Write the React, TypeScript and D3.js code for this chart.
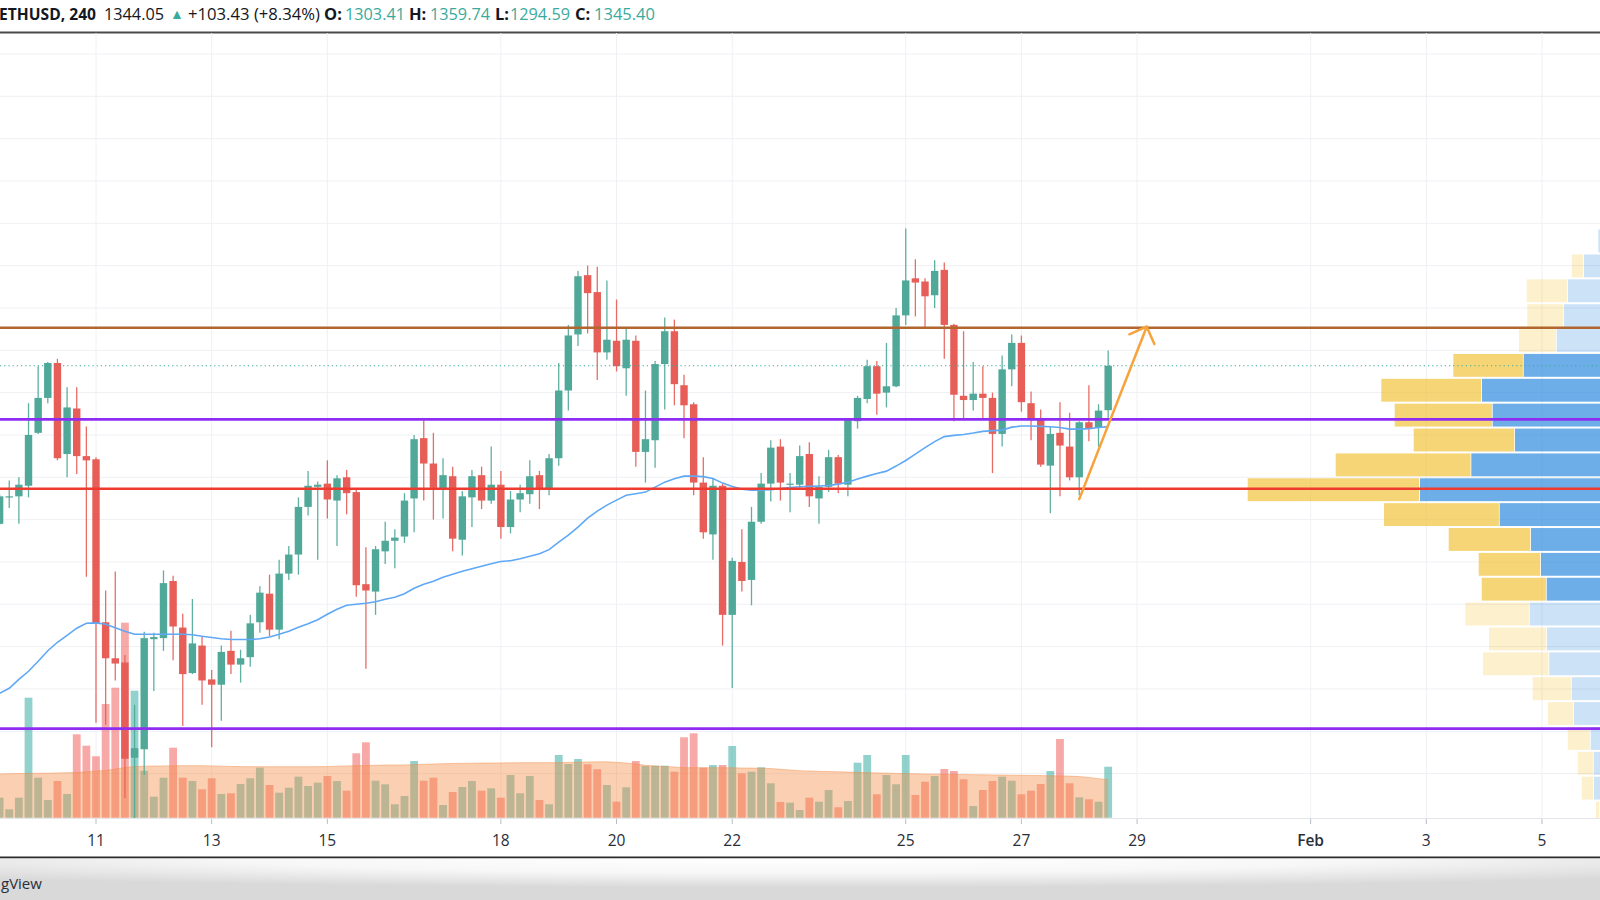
import React from 'react';
import * as d3 from 'd3';

const W = 1600;
const H = 900;

// 4h candles, first one at 2021-01-09 08:00 UTC
const START_MS = Date.UTC(2021, 0, 9, 8);
const STEP_MS = 4 * 3600 * 1000;

const opens = [
  1196, 1221, 1222, 1232, 1282, 1315, 1348, 1262, 1305, 1260,
  1257, 1103, 1069, 1065, 975, 983, 1087, 1088, 1142, 1098,
  1055, 1081, 1049, 1044, 1076, 1063, 1070, 1103, 1130, 1096,
  1149, 1167, 1212, 1231, 1234, 1218, 1240, 1226, 1139, 1132,
  1170, 1180, 1184, 1220, 1277, 1253, 1228, 1241, 1181, 1221,
  1242, 1218, 1233, 1193, 1219, 1224, 1242, 1228, 1258, 1322,
  1375, 1431, 1415, 1358, 1369, 1343, 1369, 1264, 1275, 1347,
  1378, 1327, 1309, 1235, 1186, 1232, 1110, 1160, 1143, 1198,
  1234, 1269, 1233, 1233, 1262, 1220, 1231, 1259, 1233, 1293,
  1314, 1345, 1320, 1326, 1393, 1428, 1425, 1412, 1436, 1384,
  1317, 1313, 1319, 1315, 1281, 1342, 1367, 1310, 1295, 1251,
  1282, 1269, 1240, 1292, 1287, 1303.41,
];
const highs = [
  1224, 1237, 1240, 1310, 1345, 1349, 1352, 1325, 1325, 1288,
  1259, 1133, 1151, 1072, 1025, 1094, 1093, 1152, 1147, 1111,
  1125, 1089, 1058, 1081, 1095, 1077, 1110, 1137, 1148, 1162,
  1175, 1221, 1246, 1236, 1256, 1242, 1247, 1229, 1174, 1175,
  1198, 1191, 1225, 1280, 1294, 1282, 1258, 1250, 1227, 1247,
  1250, 1269, 1246, 1227, 1233, 1256, 1246, 1262, 1348, 1384,
  1435, 1440, 1439, 1426, 1408, 1381, 1374, 1322, 1350, 1391,
  1389, 1337, 1311, 1259, 1239, 1234, 1164, 1191, 1212, 1244,
  1275, 1276, 1244, 1270, 1273, 1241, 1266, 1261, 1296, 1317,
  1351, 1350, 1367, 1400, 1475, 1446, 1428, 1445, 1443, 1385,
  1378, 1349, 1345, 1320, 1355, 1375, 1374, 1321, 1304, 1288,
  1311, 1301, 1293, 1327, 1309, 1359.74,
];
const lows = [
  1195, 1211, 1196, 1221, 1281, 1310, 1256, 1240, 1243, 1146,
  1008, 1006, 1048, 937, 911, 959, 1038, 1076, 1067, 1005,
  1054, 1025, 985, 1010, 1054, 1046, 1061, 1093, 1090, 1087,
  1143, 1148, 1204, 1162, 1201, 1175, 1205, 1127, 1059, 1110,
  1158, 1154, 1178, 1188, 1218, 1200, 1201, 1170, 1166, 1193,
  1210, 1215, 1182, 1187, 1207, 1215, 1210, 1223, 1251, 1303,
  1364, 1376, 1332, 1351, 1340, 1317, 1250, 1235, 1249, 1304,
  1308, 1277, 1223, 1182, 1162, 1081, 1041, 1132, 1119, 1196,
  1217, 1218, 1207, 1228, 1212, 1196, 1226, 1225, 1222, 1286,
  1310, 1299, 1306, 1325, 1384, 1392, 1382, 1400, 1352, 1293,
  1296, 1303, 1296, 1244, 1269, 1326, 1302, 1275, 1250, 1206,
  1222, 1237, 1223, 1274, 1269, 1294.59,
];
const closes = [
  1222, 1222, 1233, 1280, 1315, 1348, 1258, 1306, 1260, 1256,
  1102, 1069, 1064, 974, 984, 1088, 1089, 1140, 1099, 1054,
  1083, 1048, 1044, 1075, 1063, 1069, 1102, 1131, 1096, 1149,
  1167, 1212, 1232, 1233, 1219, 1239, 1225, 1138, 1133, 1172,
  1180, 1183, 1218, 1276, 1253, 1230, 1242, 1182, 1222, 1241,
  1218, 1233, 1193, 1219, 1225, 1241, 1228, 1258, 1322, 1374,
  1430, 1414, 1358, 1370, 1345, 1370, 1264, 1276, 1347, 1378,
  1328, 1308, 1235, 1188, 1232, 1110, 1161, 1142, 1198, 1234,
  1268, 1235, 1234, 1260, 1222, 1231, 1259, 1234, 1295, 1315,
  1345, 1319, 1326, 1393, 1426, 1424, 1411, 1435, 1384, 1318,
  1313, 1319, 1315, 1281, 1342, 1367, 1311, 1294, 1252, 1281,
  1270, 1240, 1292, 1286, 1303, 1345.4,
];
const priceMA = [
  1035.9, 1040.6, 1049.1, 1056.7, 1066.2, 1076.1, 1084.1, 1090.7, 1097.4, 1102.1,
  1102.4, 1101.1, 1097.8, 1094.5, 1091.7, 1091.7, 1091.7, 1091.7, 1091.7, 1091.7,
  1091.2, 1089.8, 1088.6, 1087.4, 1086.7, 1086.7, 1086.7, 1087.4, 1089.1, 1091.7,
  1094.5, 1098.3, 1101.6, 1105.4, 1110.6, 1115.3, 1119.1, 1120.1, 1121.0, 1122.4,
  1124.8, 1126.7, 1130.0, 1135.2, 1139.0, 1141.8, 1145.6, 1148.4, 1151.3, 1153.6,
  1156.0, 1158.3, 1160.4, 1161.2, 1163.1, 1165.4, 1167.8, 1171.6, 1178.7, 1185.3,
  1192.9, 1201.4, 1208.0, 1213.7, 1218.4, 1223.1, 1224.5, 1226.0, 1230.7, 1235.4,
  1238.7, 1241.1, 1241.1, 1240.6, 1238.9, 1234.5, 1231.2, 1228.8, 1227.9, 1227.9,
  1228.3, 1229.3, 1230.2, 1231.0, 1231.4, 1231.8, 1232.3, 1233.5, 1235.4, 1238.3,
  1241.1, 1243.5, 1245.8, 1250.6, 1255.9, 1261.9, 1268.0, 1273.7, 1278.4, 1279.6,
  1280.5, 1281.8, 1283.4, 1284.1, 1284.6, 1287.4, 1288.4, 1288.4, 1288.1, 1287.7,
  1287.0, 1285.5, 1285.5, 1286.0, 1287.0, 1287.9,
];
// volume (thousand ETH)
const volumes = [
  20, 8.4, 20, 120, 40, 17.7, 36.7, 23.7, 83.4, 72,
  61.4, 113.7, 130, 195, 127, 47, 21, 40, 70, 40,
  36.7, 28.4, 39.4, 23.7, 24.4, 33.7, 39.4, 50, 32.7, 25,
  30, 41, 31.7, 35, 41.7, 36.7, 27, 64.4, 75.4, 37,
  33.4, 13.4, 21.7, 56.7, 37, 40, 12.7, 25.7, 30.7, 36.7,
  27, 29.4, 20, 42.7, 24.4, 41.7, 17.7, 13.4, 62.7, 53.7,
  58.7, 53.4, 48.4, 32.7, 16, 30.4, 56.7, 51.7, 52, 52,
  46, 80.4, 84.4, 50, 52.7, 52.7, 71.7, 44.4, 46, 50.4,
  34.4, 15.7, 15, 7.7, 20, 16, 27.7, 10.4, 16.7, 55,
  62.7, 23.4, 42.7, 33.4, 62.7, 22.7, 36, 41.7, 48.7, 46.7,
  38.4, 11.7, 27.7, 36.7, 41, 37, 23.4, 27, 33.7, 46.7,
  78.7, 34.4, 20.4, 18.4, 16, 51,
];
const volumeMA = [
  43.7, 44, 44.2, 44.3, 44.4, 44.5, 44.8, 45, 45.2, 45.9,
  46.7, 47.2, 48.7, 50.2, 51.1, 51.5, 51.7, 51.8, 51.9, 52,
  52, 52, 51.8, 51.5, 51.3, 51.1, 51, 51, 51, 51,
  51, 51, 51, 51, 51.2, 51.5, 51.8, 52, 52.2, 52.5,
  52.7, 52.7, 52.8, 53.1, 53.4, 53.7, 54, 54.2, 54.4, 54.5,
  54.6, 54.7, 54.8, 54.9, 55, 55, 55, 55, 55.1, 55.3,
  55.5, 55.7, 55.9, 55.9, 55.4, 54.7, 53.7, 52.4, 51.7, 51.2,
  50.7, 50, 50, 50, 50, 50, 49.9, 49.7, 49.6, 49.5,
  49.2, 48.4, 47.7, 47, 46.7, 46.4, 46.1, 45.9, 45.6, 45.4,
  45, 44.8, 44.6, 44.3, 44.1, 43.9, 43.7, 43.7, 43.5, 43.3,
  43.2, 43, 42.9, 42.8, 42.7, 42.5, 42.4, 42.2, 42.1, 41.9,
  41.8, 41.6, 41.1, 40.3, 39, 38,
];

// visible-range volume profile, 24 rows from top (1475) to bottom (911)
const vpHigh = 1475;
const vpLow = 911;
const vpUp = [41.7, 56, 72, 76, 83.3, 116.3, 158, 147.3, 125, 168.7, 220, 140.3, 109, 99, 93.3, 110.3, 93, 90.7, 68.3, 66, 49.3, 46.3, 46, 40];
const vpDown = [0, 12.3, 41.3, 36.7, 37.7, 70.4, 100.7, 98, 101.3, 135.6, 172.3, 115.7, 82.3, 62.3, 65, 64.4, 58, 66.3, 39, 26, 23, 16, 12.3, 4];
const vpValueArea = [5, 14]; // first and last row inside value area

// horizontal levels
const levelPrices = [1381.3, 1294.7, 1229.1, 1002.5];
const levelColors = ['#b0662e', '#8e2cf2', '#ee3a2f', '#8e2cf2'];

// projected move arrow: [candle index, price]
const arrowFrom = [112, 1219.4];
const arrowTo = [119, 1382.3];

const tickDates = [
  [2021, 0, 11], [2021, 0, 13], [2021, 0, 15], [2021, 0, 18], [2021, 0, 20], [2021, 0, 22],
  [2021, 0, 25], [2021, 0, 27], [2021, 0, 29], [2021, 1, 1], [2021, 1, 3], [2021, 1, 5],
];
const tickLabels = ['11', '13', '15', '18', '20', '22', '25', '27', '29', 'Feb', '3', '5'];

const headerLast = '1344.05';
const headerChange = '+103.43 (+8.34%)';
const watermark = 'gView';

const UP = '#4fa898';
const DOWN = '#e65e57';
const TEAL_TEXT = '#3aaa9b';
const FONT = '"Open Sans", "Noto Sans", sans-serif';

export default function App() {
  const PANE_TOP = 33;
  const PANE_BOTTOM = 818;
  const VOL_BASE = 817.7;

  const x = d3
    .scaleUtc()
    .domain([new Date(Date.UTC(2021, 0, 11)), new Date(Date.UTC(2021, 1, 1))])
    .range([96, 1310.6]);
  const y = d3.scaleLinear().domain([960, 1480]).range([773.6, 223.3]);
  const yv = d3.scaleLinear().domain([0, 100]).range([VOL_BASE, VOL_BASE - 100]);
  const xVP = d3.scaleLinear().domain([0, 100]).range([1640, 1540]);

  const tAt = (i: number) => new Date(START_MS + i * STEP_MS);
  const cx = (i: number) => x(tAt(i));
  const n = closes.length;

  const gridPrices = d3.range(960, 1641, 40);
  const ticks = tickDates.map((d) => new Date(Date.UTC(d[0], d[1], d[2])));

  const maLine = d3
    .line<number>()
    .x((_, i) => cx(i))
    .y((d) => y(d))(priceMA);

  const vmaArea = d3
    .area<number>()
    .x((_, i) => cx(i))
    .y0(VOL_BASE)
    .y1((d) => yv(d))(volumeMA);
  const vmaLine = d3
    .line<number>()
    .x((_, i) => cx(i))
    .y((d) => yv(d))(volumeMA);

  const rows = vpUp.length;
  const rowStep = (vpHigh - vpLow) / rows;

  // arrow geometry
  const ax0 = cx(arrowFrom[0]);
  const ay0 = y(arrowFrom[1]);
  const ax1 = cx(arrowTo[0]);
  const ay1 = y(arrowTo[1]);
  const ang = Math.atan2(ay0 - ay1, ax0 - ax1);
  const wing = 19;
  const wingA = ang + Math.PI / 4;
  const wingB = ang - Math.PI / 4;

  const last = n - 1;

  return (
    <svg
      width={W}
      height={H}
      viewBox={`0 0 ${W} ${H}`}
      style={{ position: 'absolute', left: 0, top: 0, background: '#fff', fontFamily: FONT }}
    >
      <defs>
        <clipPath id="pane">
          <rect x={0} y={PANE_TOP} width={W} height={PANE_BOTTOM - PANE_TOP} />
        </clipPath>
        <radialGradient id="shade" cx="50%" cy="0%" r="70%" fx="50%" fy="0%">
          <stop offset="0%" stopColor="#ffffff" />
          <stop offset="50%" stopColor="#f7f7f7" />
          <stop offset="100%" stopColor="#d9d9d9" />
        </radialGradient>
      </defs>

      <rect x={0} y={0} width={W} height={H} fill="#fff" />

      {/* header */}
      <g fontSize={16.5} fill="#131722">
        <text x={-1} y={19.5} fontWeight={700} textLength={97} lengthAdjust="spacingAndGlyphs">ETHUSD, 240</text>
        <text x={104} y={19.5} textLength={60} lengthAdjust="spacingAndGlyphs">{headerLast}</text>
        <text x={170} y={18.5} fill={TEAL_TEXT} fontSize={14}>▲</text>
        <text x={188} y={19.5} textLength={132} lengthAdjust="spacingAndGlyphs">{headerChange}</text>
        <text x={324} y={19.5} fontWeight={700}>O:</text>
        <text x={345} y={19.5} fill={TEAL_TEXT} textLength={60} lengthAdjust="spacingAndGlyphs">{opens[last].toFixed(2)}</text>
        <text x={409} y={19.5} fontWeight={700}>H:</text>
        <text x={430} y={19.5} fill={TEAL_TEXT} textLength={60} lengthAdjust="spacingAndGlyphs">{highs[last].toFixed(2)}</text>
        <text x={495} y={19.5} fontWeight={700}>L:</text>
        <text x={510} y={19.5} fill={TEAL_TEXT} textLength={60} lengthAdjust="spacingAndGlyphs">{lows[last].toFixed(2)}</text>
        <text x={575} y={19.5} fontWeight={700}>C:</text>
        <text x={594} y={19.5} fill={TEAL_TEXT} textLength={61} lengthAdjust="spacingAndGlyphs">{closes[last].toFixed(2)}</text>
      </g>
      <line x1={0} x2={W} y1={32.5} y2={32.5} stroke="#4a4a4a" strokeWidth={2} />

      <g clipPath="url(#pane)">
        {/* grid */}
        {gridPrices.map((p) => (
          <line key={'gy' + p} x1={0} x2={W} y1={y(p)} y2={y(p)} stroke="#eef0f4" strokeWidth={1} />
        ))}
        {ticks.map((t, i) => (
          <line key={'gx' + i} x1={x(t)} x2={x(t)} y1={PANE_TOP} y2={PANE_BOTTOM} stroke="#eef0f4" strokeWidth={1} />
        ))}

        {/* volume */}
        {volumes.map((v, i) => (
          <rect
            key={'v' + i}
            x={cx(i) - 3.9}
            y={yv(v)}
            width={7.8}
            height={VOL_BASE - yv(v)}
            fill={closes[i] >= opens[i] ? 'rgba(38,166,154,0.5)' : 'rgba(239,83,80,0.5)'}
          />
        ))}
        <path d={vmaArea || ''} fill="rgba(245,140,70,0.42)" />
        <path d={vmaLine || ''} fill="none" stroke="rgba(240,140,70,0.45)" strokeWidth={1} />

        {/* candles */}
        {closes.map((c, i) => {
          const o = opens[i];
          const up = c >= o;
          const col = up ? UP : DOWN;
          const top = y(Math.max(o, c));
          const bot = y(Math.min(o, c));
          return (
            <g key={'c' + i}>
              <line x1={cx(i)} x2={cx(i)} y1={y(highs[i])} y2={y(lows[i])} stroke={col} strokeWidth={1.3} opacity={0.9} />
              <rect x={cx(i) - 3.7} y={top} width={7.4} height={Math.max(1.2, bot - top)} fill={col} />
            </g>
          );
        })}

        {/* price MA */}
        <path d={maLine || ''} fill="none" stroke="#5fa8f6" strokeWidth={1.6} />

        {/* volume profile */}
        {vpUp.map((u, r) => {
          const top = y(vpHigh - r * rowStep) + 1;
          const h = y(vpHigh - (r + 1) * rowStep) - y(vpHigh - r * rowStep) - 2;
          const inVA = r >= vpValueArea[0] && r <= vpValueArea[1];
          const dn = vpDown[r];
          return (
            <g key={'vp' + r}>
              <rect
                x={xVP(u)}
                y={top}
                width={xVP(0) - xVP(u)}
                height={h}
                fill={inVA ? 'rgba(33,130,220,0.65)' : 'rgba(33,130,220,0.23)'}
              />
              {dn > 0 && (
                <rect
                  x={xVP(u + dn)}
                  y={top}
                  width={xVP(u) - xVP(u + dn) - 0.8}
                  height={h}
                  fill={inVA ? 'rgba(240,190,40,0.64)' : 'rgba(240,190,40,0.23)'}
                />
              )}
            </g>
          );
        })}

        {/* last price dotted line */}
        <line
          x1={0}
          x2={W}
          y1={y(closes[last])}
          y2={y(closes[last])}
          stroke="#3aaa9b"
          strokeWidth={1.2}
          strokeDasharray="1.2 3"
        />

        {/* levels */}
        {levelPrices.map((p, i) => (
          <line key={'lv' + i} x1={0} x2={W} y1={y(p)} y2={y(p)} stroke={levelColors[i]} strokeWidth={2.6} />
        ))}

        {/* arrow */}
        <g stroke="#f7a23b" strokeWidth={2.5} strokeLinecap="round" fill="none">
          <line x1={ax0} y1={ay0} x2={ax1} y2={ay1} />
          <line x1={ax1} y1={ay1} x2={ax1 + wing * Math.cos(wingA)} y2={ay1 + wing * Math.sin(wingA)} />
          <line x1={ax1} y1={ay1} x2={ax1 + wing * Math.cos(wingB)} y2={ay1 + wing * Math.sin(wingB)} />
        </g>
      </g>

      {/* time axis */}
      <line x1={0} x2={W} y1={818.5} y2={818.5} stroke="#e3e5ea" strokeWidth={1} />
      {ticks.map((t, i) => (
        <g key={'tk' + i}>
          <line x1={x(t)} x2={x(t)} y1={819} y2={824} stroke="#b8bcc6" strokeWidth={1} />
          <text
            x={x(t)}
            y={846}
            textAnchor="middle"
            fontSize={15.5}
            fill="#2a2e39"
            fontWeight={tickLabels[i] === 'Feb' ? 600 : 400}
          >
            {tickLabels[i]}
          </text>
        </g>
      ))}

      {/* footer */}
      <line x1={0} x2={W} y1={857.5} y2={857.5} stroke="#2b2b2b" strokeWidth={2} />
      <rect x={0} y={858.5} width={W} height={H - 858.5} fill="url(#shade)" />
      <text x={1} y={889} fontSize={15} fill="#2a2e39">{watermark}</text>
    </svg>
  );
}
